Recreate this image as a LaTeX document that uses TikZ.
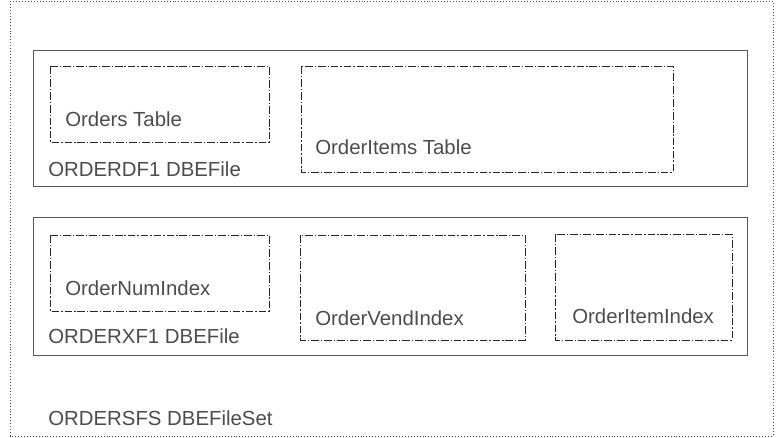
\documentclass[tikz,border=0pt]{standalone}
\usepackage{fontspec}
\setmainfont{Liberation Sans}
\usepackage{tikz}
\usetikzlibrary{positioning}

\tikzset{
  filebox/.style={draw=black!65, line width=0.7pt},
  tablebox/.style={draw=black!85, line width=0.6pt, dash pattern=on 5.5pt off 1.4pt on 0.9pt off 1.4pt},
  setbox/.style={draw=black!70, line width=0.7pt, dash pattern=on 0.7pt off 1.4pt},
  lbl/.style={anchor=base west, inner sep=0pt, text=black!70, font=\fontsize{14.5}{16}\selectfont}
}

\begin{document}
\begin{tikzpicture}[x=0.025cm, y=-0.025cm]
  \useasboundingbox (0,0) rectangle (780,438);
  % file set
  \draw[setbox] (10,1) rectangle (773,436);
  \node[lbl] (fileset) at (48,425) {ORDERSFS DBEFileSet};

  % data file
  \draw[filebox] (33,50) rectangle (747,186);
  \draw[tablebox] (50,66) rectangle (269,142);
  \draw[tablebox] (301,66) rectangle (673,172);
  \node[lbl] (orders) at (65,127) {Orders Table};
  \node[lbl] (items) at (315,155) {OrderItems Table};
  \node[lbl] (df1) at (48,177) {ORDERDF1 DBEFile};

  % index file
  \draw[filebox] (33,217) rectangle (747,355);
  \draw[tablebox] (50,235) rectangle (269,311);
  \draw[tablebox] (300,235) rectangle (525,340);
  \draw[tablebox] (555,234) rectangle (732,340);
  \node[lbl] (numidx) at (65,295) {OrderNumIndex};
  \node[lbl] (vendidx) at (315,325) {OrderVendIndex};
  \node[lbl] (itemidx) at (572,323) {OrderItemIndex};
  \node[lbl] (xf1) at (48,343) {ORDERXF1 DBEFile};
\end{tikzpicture}
\end{document}
